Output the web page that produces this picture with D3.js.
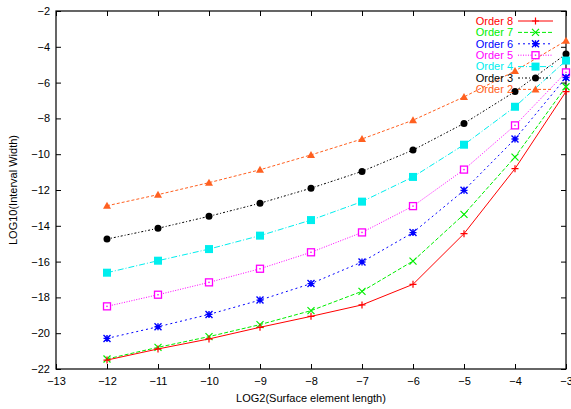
<!DOCTYPE html>
<html>
<head>
<meta charset="utf-8">
<script src="https://cdn.jsdelivr.net/npm/d3@7"></script>
<style>
  body { margin: 0; background: #fff; }
  text { font-family: "Liberation Sans", Arial, sans-serif; }
</style>
</head>
<body>
<div id="chart"></div>
<script>
// Data
let xVals = [-12, -11, -10, -9, -8, -7, -6, -5, -4, -3];
let xTicks = [-13, -12, -11, -10, -9, -8, -7, -6, -5, -4, -3];
let yTicks = [-22, -20, -18, -16, -14, -12, -10, -8, -6, -4, -2];

let order8 = [-21.5, -20.88, -20.32, -19.67, -19.06, -18.42, -17.27, -14.44, -10.81, -6.5];
let order7 = [-21.44, -20.79, -20.19, -19.52, -18.74, -17.66, -15.97, -13.36, -10.16, -6.23];
let order6 = [-20.29, -19.64, -18.95, -18.15, -17.23, -16.02, -14.38, -12.02, -9.15, -5.72];
let order5 = [-18.5, -17.85, -17.16, -16.4, -15.48, -14.37, -12.9, -10.86, -8.39, -5.43];
let order4 = [-16.62, -15.95, -15.3, -14.55, -13.68, -12.65, -11.27, -9.47, -7.35, -4.77];
let order3 = [-14.74, -14.14, -13.47, -12.74, -11.9, -10.96, -9.77, -8.28, -6.5, -4.4];
let order2 = [-12.88, -12.26, -11.59, -10.87, -10.04, -9.15, -8.1, -6.8, -5.35, -3.66];

let seriesNames = ["Order 8", "Order 7", "Order 6", "Order 5", "Order 4", "Order 3", "Order 2"];
let seriesValues = [order8, order7, order6, order5, order4, order3, order2];

// styles for each series
let colors = ["#ff0000", "#00ee00", "#0000ff", "#ff00ff", "#00eeee", "#000000", "#ff6020"];
let dashes = [null, "4,2", "2,3", "1,1.5", "6,2,1,2", "2,2,1,2", "3,2"];
let markers = ["plus", "cross", "star", "boxOpen", "boxFill", "circle", "triangle"];

////////////////////////////////////////////////////////////////////////
// SVG setup

let width = 571, height = 409;
let margin = {left: 56, right: 5, top: 11, bottom: 40};

let svg = d3.select("#chart").append("svg")
  .attr("width", width).attr("height", height);

let x = d3.scaleLinear().domain([-13, -3]).range([margin.left, width - margin.right]);
let y = d3.scaleLinear().domain([-22, -2]).range([height - margin.bottom, margin.top]);

// Axes (gnuplot style: ticks pointing inward, mirrored)
function styleAxis(g) {
  g.select(".domain").remove();
  g.selectAll("line").attr("stroke", "#000").attr("stroke-width", 1);
  g.selectAll("text").style("font-size", "11px").attr("fill", "#000");
}

svg.append("g")
  .attr("transform", `translate(0,${y(-22)})`)
  .call(d3.axisBottom(x).tickValues(xTicks).tickFormat(d3.format("d")).tickSize(-5).tickPadding(8))
  .call(styleAxis);

svg.append("g")
  .attr("transform", `translate(0,${y(-2)})`)
  .call(d3.axisTop(x).tickValues(xTicks).tickFormat("").tickSize(-5))
  .call(styleAxis);

svg.append("g")
  .attr("transform", `translate(${x(-13)},0)`)
  .call(d3.axisLeft(y).tickValues(yTicks).tickFormat(d3.format("d")).tickSize(-5).tickPadding(6))
  .call(styleAxis);

svg.append("g")
  .attr("transform", `translate(${x(-3)},0)`)
  .call(d3.axisRight(y).tickValues(yTicks).tickFormat("").tickSize(-5))
  .call(styleAxis);

// frame
svg.append("rect")
  .attr("x", x(-13)).attr("y", y(-2))
  .attr("width", x(-3) - x(-13)).attr("height", y(-22) - y(-2))
  .attr("fill", "none").attr("stroke", "#000").attr("stroke-width", 1.2);

// axis titles
svg.append("text")
  .attr("x", (x(-13) + x(-3)) / 2).attr("y", 402)
  .attr("text-anchor", "middle").style("font-size", "11px")
  .text("LOG2(Surface element length)");

svg.append("text")
  .attr("transform", `translate(17,${(y(-2) + y(-22)) / 2}) rotate(-90)`)
  .attr("text-anchor", "middle").style("font-size", "11px")
  .text("LOG10(Interval Width)");

////////////////////////////////////////////////////////////////////////
// Markers

function drawMarker(g, type, cx, cy, color) {
  let s = 3.5;
  if (type === "plus") {
    g.append("path").attr("d", `M${cx - s},${cy}H${cx + s}M${cx},${cy - s}V${cy + s}`)
      .attr("stroke", color).attr("stroke-width", 1.2);
  } else if (type === "cross") {
    g.append("path").attr("d", `M${cx - s},${cy - s}L${cx + s},${cy + s}M${cx - s},${cy + s}L${cx + s},${cy - s}`)
      .attr("stroke", color).attr("stroke-width", 1.2);
  } else if (type === "star") {
    g.append("path").attr("d", `M${cx - s},${cy - s}L${cx + s},${cy + s}M${cx - s},${cy + s}L${cx + s},${cy - s}M${cx - s},${cy}H${cx + s}M${cx},${cy - s}V${cy + s}`)
      .attr("stroke", color).attr("stroke-width", 1.4);
  } else if (type === "boxOpen") {
    g.append("rect").attr("x", cx - s).attr("y", cy - s).attr("width", 2 * s).attr("height", 2 * s)
      .attr("fill", "#fff").attr("stroke", color).attr("stroke-width", 1.3);
    g.append("rect").attr("x", cx - 0.7).attr("y", cy - 0.7).attr("width", 1.4).attr("height", 1.4)
      .attr("fill", color);
  } else if (type === "boxFill") {
    g.append("rect").attr("x", cx - s - 0.5).attr("y", cy - s - 0.5).attr("width", 2 * s + 1).attr("height", 2 * s + 1)
      .attr("fill", color);
  } else if (type === "circle") {
    g.append("circle").attr("cx", cx).attr("cy", cy).attr("r", s).attr("fill", color);
  } else if (type === "triangle") {
    g.append("path").attr("d", `M${cx},${cy - s - 0.5}L${cx + s + 0.5},${cy + s - 0.5}L${cx - s - 0.5},${cy + s - 0.5}Z`)
      .attr("fill", color);
  }
}

////////////////////////////////////////////////////////////////////////
// Series lines and points (draw Order 2 first so Order 8 ends up on top)

let line = d3.line().x(d => x(d[0])).y(d => y(d[1]));

for (let i = seriesValues.length - 1; i >= 0; i--) {
  let pts = xVals.map((v, j) => [v, seriesValues[i][j]]);
  let g = svg.append("g");
  g.append("path")
    .attr("d", line(pts))
    .attr("fill", "none")
    .attr("stroke", colors[i])
    .attr("stroke-width", 1)
    .attr("stroke-dasharray", dashes[i]);
  pts.forEach(p => drawMarker(g, markers[i], x(p[0]), y(p[1]), colors[i]));
}

////////////////////////////////////////////////////////////////////////
// Legend

let legend = svg.append("g");
seriesNames.forEach((name, i) => {
  let ly = 21 + i * 11.4;
  legend.append("text")
    .attr("x", 513).attr("y", ly).attr("dy", "0.35em")
    .attr("text-anchor", "end").style("font-size", "11px")
    .attr("fill", colors[i])
    .text(name);
  legend.append("path")
    .attr("d", `M518,${ly}H553`)
    .attr("stroke", colors[i]).attr("stroke-width", 1)
    .attr("stroke-dasharray", dashes[i]);
  drawMarker(legend, markers[i], 535.5, ly, colors[i]);
});
</script>
</body>
</html>
